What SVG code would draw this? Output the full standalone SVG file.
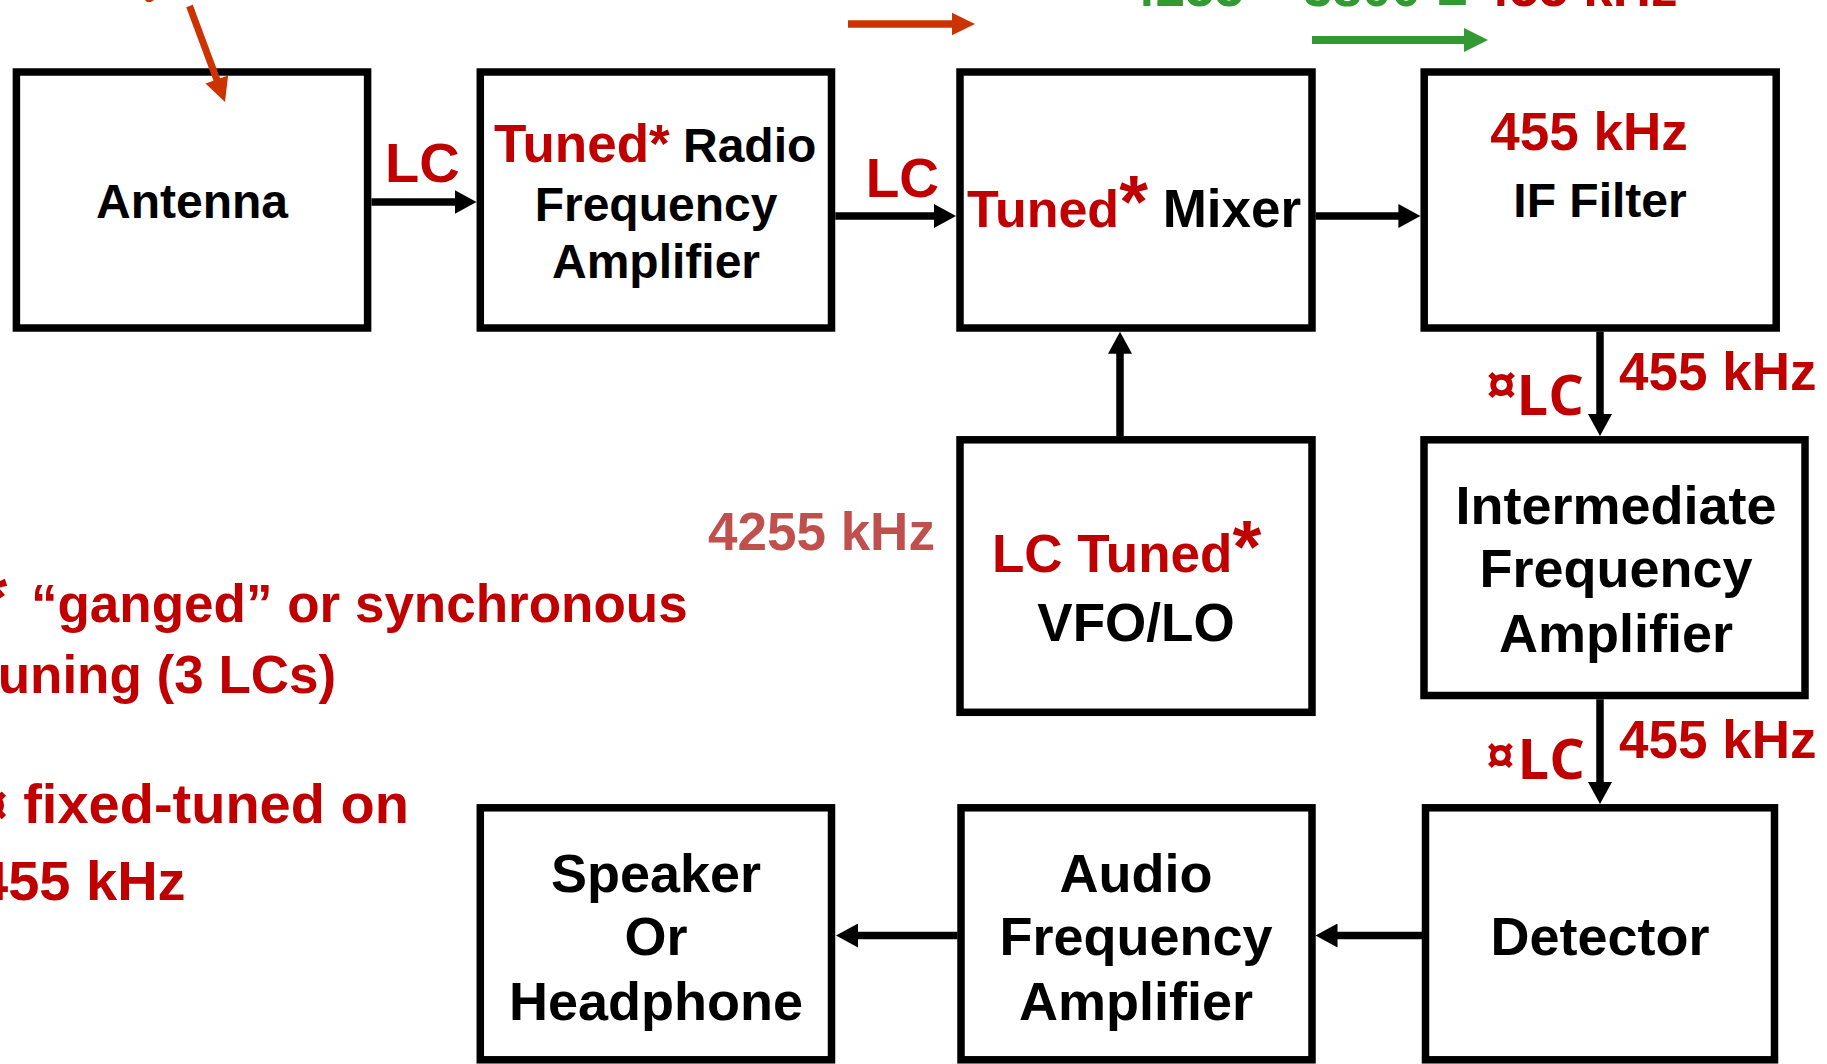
<svg xmlns="http://www.w3.org/2000/svg" width="1827" height="1064" viewBox="0 0 1827 1064">
<style>
  .box{fill:#fff;stroke:#000;stroke-width:7.5}
  text{font-family:"Liberation Sans",Arial,sans-serif;font-weight:bold}
  .blk{fill:#000}
  .red{fill:#C00000}
  .pink{fill:#C0504D}
  .grn{fill:#339933}
  .mid{text-anchor:middle}
  .os{font-family:"Open Sans","Liberation Sans",sans-serif;font-weight:bold}
  .conn{stroke:#000;stroke-width:7.5;fill:none}
</style>
<defs>
  <marker id="ah" markerUnits="userSpaceOnUse" markerWidth="24" markerHeight="24" refX="2" refY="12" orient="auto">
    <path d="M0,0 L22,12 L0,24 z" fill="#000"/>
  </marker>
</defs>
<rect width="1827" height="1064" fill="#fff"/>

<!-- connectors -->
<g id="connectors" class="conn">
  <line x1="371.4" y1="202" x2="456.5" y2="202" marker-end="url(#ah)"/>
  <line x1="835.3" y1="216" x2="936" y2="216" marker-end="url(#ah)"/>
  <line x1="1315.7" y1="216" x2="1400.4" y2="216" marker-end="url(#ah)"/>
  <line x1="1120" y1="436" x2="1120" y2="351.7" marker-end="url(#ah)"/>
  <line x1="1600" y1="331.7" x2="1600" y2="416" marker-end="url(#ah)"/>
  <line x1="1600" y1="699.3" x2="1600" y2="784" marker-end="url(#ah)"/>
  <line x1="1422" y1="935.5" x2="1335.5" y2="935.5" marker-end="url(#ah)"/>
  <line x1="957.5" y1="935.5" x2="856" y2="935.5" marker-end="url(#ah)"/>
</g>

<!-- connector labels -->
<g id="labels">
  <text class="red" x="385" y="181.7" font-size="56">LC</text>
  <text class="red" x="865.7" y="197.3" font-size="55">LC</text>
  <text class="red os" x="1485" y="405" font-size="58">¤</text>
  <text class="red os" x="1516.5" y="415" font-size="56">LC</text>
  <text class="red" x="1619" y="390" font-size="53">455 kHz</text>
  <text class="red os" x="1485" y="774" font-size="54">¤</text>
  <text class="red os" x="1517.5" y="779" font-size="56">LC</text>
  <text class="red" x="1619" y="758" font-size="53">455 kHz</text>
  <text class="pink" x="708" y="550" font-size="53">4255 kHz</text>
</g>

<g id="antenna">
  <rect class="box" x="16.4" y="72" width="351.2" height="256"/>
  <text class="blk mid" x="192" y="218" font-size="48">Antenna</text>
</g>
<g id="rf-amp">
  <rect class="box" x="480.3" y="72" width="351.2" height="256"/>
  <text x="494" y="161.7"><tspan class="red" font-size="53">Tuned*</tspan><tspan class="blk" font-size="48"> Radio</tspan></text>
  <text class="blk mid" x="656" y="220.7" font-size="48">Frequency</text>
  <text class="blk mid" x="656" y="278.3" font-size="48">Amplifier</text>
</g>
<g id="mixer">
  <rect class="box" x="960" y="72" width="352" height="256"/>
  <text x="967" y="226.7" font-size="52"><tspan class="red">Tuned</tspan><tspan class="red" font-size="74">*</tspan><tspan class="blk" font-size="53"> Mixer</tspan></text>
</g>
<g id="if-filter">
  <rect class="box" x="1424.2" y="72" width="352" height="256"/>
  <text class="red mid" x="1589" y="150" font-size="53">455 kHz</text>
  <text class="blk mid" x="1600" y="217.3" font-size="48">IF Filter</text>
</g>
<g id="vfo">
  <rect class="box" x="960" y="439.8" width="352" height="272.5"/>
  <text x="992" y="572" font-size="53"><tspan class="red">LC Tuned</tspan><tspan class="red" font-size="74">*</tspan></text>
  <text class="blk mid" x="1136" y="641" font-size="53">VFO/LO</text>
</g>
<g id="if-amp">
  <rect class="box" x="1424" y="439.8" width="381" height="255.7"/>
  <text class="blk mid" x="1616" y="524" font-size="54">Intermediate</text>
  <text class="blk mid" x="1616" y="587.3" font-size="54">Frequency</text>
  <text class="blk mid" x="1616" y="652.3" font-size="54">Amplifier</text>
</g>
<g id="speaker">
  <rect class="box" x="480.3" y="807.8" width="351.2" height="252"/>
  <text class="blk mid" x="656" y="891.7" font-size="54">Speaker</text>
  <text class="blk mid" x="656" y="955" font-size="54">Or</text>
  <text class="blk mid" x="656" y="1020" font-size="54">Headphone</text>
</g>
<g id="af-amp">
  <rect class="box" x="961" y="807.8" width="351" height="252"/>
  <text class="blk mid" x="1136" y="891.7" font-size="54">Audio</text>
  <text class="blk mid" x="1136" y="955" font-size="54">Frequency</text>
  <text class="blk mid" x="1136" y="1020" font-size="54">Amplifier</text>
</g>
<g id="detector">
  <rect class="box" x="1425.5" y="807.8" width="349" height="252"/>
  <text class="blk mid" x="1600" y="955" font-size="54">Detector</text>
</g>

<g id="notes">
  <text class="red" x="-20" y="621.7" font-size="70">*</text>
  <text class="red" x="31" y="621.7" font-size="53">“ganged” or synchronous</text>
  <text class="red" x="-20" y="693.3" font-size="53">tuning (3 LCs)</text>
  <text class="red" x="-23.5" y="823" font-size="56">¤ fixed-tuned on</text>
  <text class="red" x="-23" y="900" font-size="56">455 kHz</text>
</g>

<!-- annotations at top (drawn over boxes) -->
<g id="annotations">
  <polygon points="145,0 154,0 151,2 147,2" fill="#CC3300"/>
  <line x1="189.5" y1="6" x2="217" y2="80" stroke="#CC3300" stroke-width="7"/>
  <polygon points="228.1,75.4 205.5,83.6 225,102" fill="#CC3300"/>
  <line x1="848" y1="24" x2="954" y2="24" stroke="#CC3300" stroke-width="7.3"/>
  <polygon points="952,12.7 975,24 952,35.3" fill="#CC3300"/>
  <line x1="1312" y1="40" x2="1466" y2="40" stroke="#339933" stroke-width="8"/>
  <polygon points="1464,28 1488,40 1464,52" fill="#339933"/>
  <text y="5.5" font-size="53"><tspan class="grn" x="1126">4255</tspan><tspan class="grn" x="1259">–</tspan><tspan class="grn" x="1303">3800</tspan><tspan class="grn" x="1437" dy="7">=</tspan><tspan class="red" x="1480" dy="-7">455 kHz</tspan></text>
</g>
</svg>
